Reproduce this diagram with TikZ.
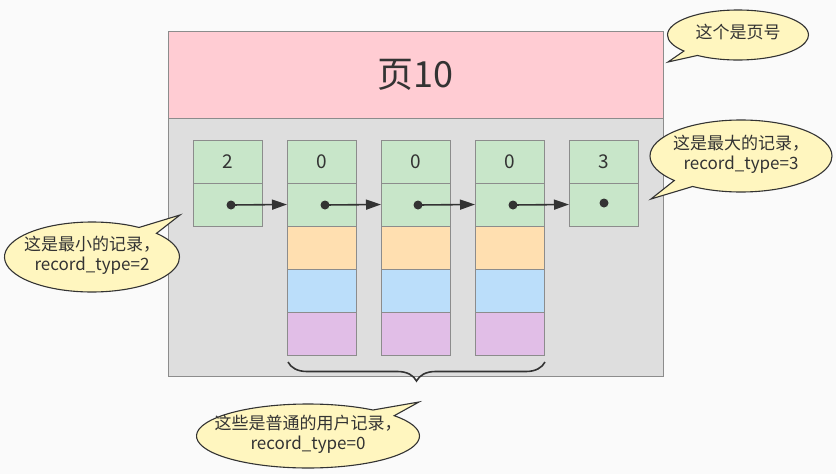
\documentclass[tikz,border=0pt]{standalone}
\usepackage{fontspec}
\setmainfont{Noto Sans CJK SC}
\usetikzlibrary{shapes.callouts,arrows.meta,decorations.pathreplacing}
\definecolor{bgc}{HTML}{FAFAFA}
\definecolor{pinkc}{HTML}{FFCCD3}
\definecolor{bodyc}{HTML}{DEDEDE}
\definecolor{greenc}{HTML}{C8E6C9}
\definecolor{orangec}{HTML}{FFDFB0}
\definecolor{bluec}{HTML}{BBDEFA}
\definecolor{purplec}{HTML}{E1BEE7}
\definecolor{edgec}{HTML}{8C8C8C}
\definecolor{txtc}{HTML}{333333}
\definecolor{yelc}{HTML}{FFF6BF}
\newcommand{\calltext}[1]{\smash{\makebox[0pt]{\raisebox{-4pt}{\begin{tabular}{@{}c@{}}#1\end{tabular}}}}}
\tikzset{
  cell/.style={draw=edgec, line width=1pt, minimum width=69pt, minimum height=43pt, inner sep=0pt, text=txtc, font=\fontsize{19}{22}\selectfont},
  gcell/.style={cell, fill=greenc},
  ocell/.style={cell, fill=orangec},
  bcell/.style={cell, fill=bluec},
  pcell/.style={cell, fill=purplec},
  dotn/.style={circle, fill=txtc, inner sep=0pt, minimum size=9pt},
  link/.style={draw=txtc, line width=1.6pt, -{Triangle[length=15pt,width=10pt]}},
  note/.style={ellipse callout, draw=txtc, line width=1.1pt, fill=yelc, text=txtc, inner sep=0pt, font=\fontsize{17}{20}\selectfont},
}
\begin{document}
\begin{tikzpicture}[x=1pt,y=-1pt]
\path[fill=bgc] (0,0) rectangle (836,474);
\useasboundingbox (0,0) rectangle (836,474);
\node[draw=edgec, line width=1pt, fill=pinkc, minimum width=495pt, minimum height=87pt, inner sep=0pt, text=txtc, font=\fontsize{36}{40}\selectfont] (hdr) at (415.5,74.5) {页10};
\node[draw=edgec, line width=1pt, fill=bodyc, minimum width=495pt, minimum height=258pt, inner sep=0pt] (body) at (415.5,247) {};
% infimum
\node[gcell] (a1) at (228,161.5) {2};
\node[gcell] (a2) at (228,204.5) {};
% user records
\foreach \n/\x in {b/322,c/416,d/510}{
  \node[gcell] (\n1) at (\x,161.5) {0};
  \node[gcell] (\n2) at (\x,204.5) {};
  \node[ocell] (\n3) at (\x,247.5) {};
  \node[bcell] (\n4) at (\x,290.5) {};
  \node[pcell] (\n5) at (\x,333.5) {};
}
% supremum
\node[gcell] (e1) at (604,161.5) {3};
\node[gcell] (e2) at (604,204.5) {};
% dots
\node[dotn] (pa) at (231,205) {};
\node[dotn] (pb) at (325,205) {};
\node[dotn] (pc) at (418,205) {};
\node[dotn] (pd) at (513,205) {};
\node[dotn] (pe) at (604,203) {};
\draw[link] (pa.center) -- (b2.west);
\draw[link] (pb.center) -- (c2.west);
\draw[link] (pc.center) -- (d2.west);
\draw[link] (pd.center) -- (e2.west);
% brace
\coordinate (bl) at (288,362);
\coordinate (br) at (545,362);
\draw[draw=txtc, line width=1.6pt, decorate, decoration={brace, mirror, amplitude=19pt, aspect=0.5}] (bl) -- (br);
% callouts
\coordinate (t1) at (668,62);
\coordinate (t2) at (651,199);
\coordinate (t3) at (180,215);
\coordinate (t4) at (419,402);
\node[note, minimum width=141pt, minimum height=50pt, callout absolute pointer={(t1)}] (n1) at (738,35) {\calltext{这个是页号}};
\node[note, minimum width=182pt, minimum height=72pt, callout absolute pointer={(t2)}] (n2) at (741,156) {\calltext{这是最大的记录，\\record\_type=3}};
\node[note, minimum width=175pt, minimum height=70pt, callout absolute pointer={(t3)}] (n3) at (92,257) {\calltext{这是最小的记录，\\record\_type=2}};
\node[note, minimum width=223pt, minimum height=64pt, callout absolute pointer={(t4)}] (n4) at (308,436) {\calltext{这些是普通的用户记录，\\record\_type=0}};
\end{tikzpicture}
\end{document}
